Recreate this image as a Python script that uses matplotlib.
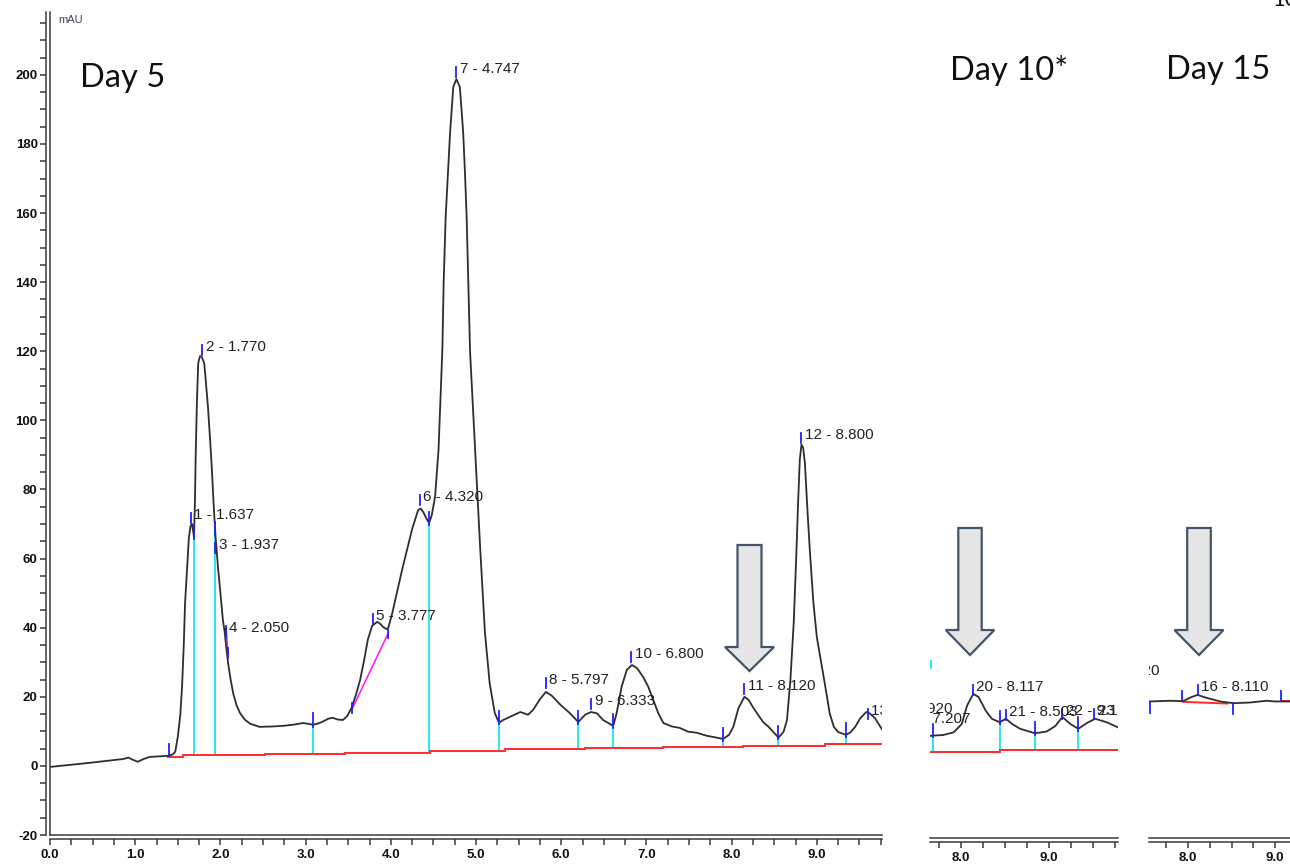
import matplotlib
matplotlib.use("Agg")
import matplotlib.pyplot as plt
from matplotlib.patches import Polygon
from matplotlib.ticker import FormatStrFormatter, MultipleLocator

plt.rcParams["font.family"] = ["Liberation Sans", "DejaVu Sans"]
plt.rcParams["axes.unicode_minus"] = False

# ---- Day 5 trace (main panel), minutes / mAU ----
day5_t = [0.00, 0.47, 0.86, 0.92, 0.97, 1.03, 1.10, 1.17, 1.38, 1.44, 1.47, 1.50, 1.53,
          1.55, 1.57, 1.585, 1.61, 1.63, 1.65, 1.667, 1.69, 1.70, 1.71, 1.725, 1.74, 1.76,
          1.78, 1.81, 1.83, 1.855, 1.88, 1.90, 1.92, 1.94, 1.97, 2.00, 2.03, 2.05, 2.07,
          2.09, 2.12, 2.15, 2.19, 2.23, 2.29, 2.35, 2.46, 2.60, 2.74, 2.85, 2.97, 3.03,
          3.09, 3.15, 3.20, 3.27, 3.32, 3.38, 3.44, 3.49, 3.54, 3.59, 3.64, 3.69, 3.73,
          3.78, 3.84, 3.88, 3.91, 3.95, 3.97, 4.02, 4.07, 4.13, 4.19, 4.25, 4.32, 4.35,
          4.38, 4.42, 4.45, 4.48, 4.52, 4.56, 4.59, 4.605, 4.62, 4.644, 4.675, 4.695,
          4.715, 4.733, 4.77, 4.81, 4.83, 4.85, 4.87, 4.89, 4.93, 4.99, 5.05, 5.105,
          5.16, 5.22, 5.27, 5.32, 5.40, 5.52, 5.61, 5.67, 5.75, 5.82, 5.89, 5.99, 6.10,
          6.20, 6.28, 6.35, 6.42, 6.49, 6.61, 6.65, 6.71, 6.77, 6.83, 6.89, 6.96, 7.02,
          7.08, 7.14, 7.20, 7.30, 7.39, 7.49, 7.59, 7.71, 7.78, 7.90, 7.97, 8.02, 8.08,
          8.15, 8.20, 8.25, 8.31, 8.37, 8.43, 8.49, 8.55, 8.61, 8.65, 8.69, 8.73, 8.76,
          8.78, 8.80, 8.82, 8.84, 8.86, 8.89, 8.92, 8.96, 9.00, 9.04, 9.07, 9.12, 9.15,
          9.20, 9.25, 9.34, 9.39, 9.45, 9.51, 9.58, 9.62, 9.68, 9.77]
day5_mau = [-0.3, 0.9, 2.0, 2.4, 1.8, 1.2, 2.0, 2.6, 2.9, 3.3, 4.1, 8.4, 15.0,
            23.0, 35.0, 47.0, 57.6, 66.0, 69.5, 70.0, 66.3, 75.0, 90.0, 106.0, 116.6, 118.6,
            118.4, 116.6, 111.0, 103.6, 94.0, 85.7, 76.0, 67.4, 58.0, 50.0, 42.0, 38.8, 34.0,
            29.8, 25.0, 21.0, 17.5, 15.3, 13.3, 12.2, 11.3, 11.4, 11.6, 11.9, 12.4, 12.2,
            11.9, 12.3, 12.8, 13.7, 13.9, 13.4, 13.3, 14.5, 16.8, 20.5, 24.9, 31.0, 36.5,
            40.5, 41.7, 41.0, 40.2, 39.6, 39.9, 44.5, 50.0, 56.5, 62.5, 68.5, 74.0, 74.5,
            73.5, 71.5, 70.3, 72.5, 78.0, 91.5, 110.8, 120.4, 139.7, 159.0, 173.5, 183.0,
            189.9, 196.5, 198.8, 196.5, 190.0, 183.0, 172.0, 159.0, 120.0, 91.5, 62.5, 38.5,
            24.0, 15.3, 12.5, 13.3, 14.2, 15.6, 14.8, 16.2, 19.3, 21.4, 20.3, 17.7, 15.3,
            12.7, 14.8, 15.6, 15.2, 13.3, 11.6, 15.2, 23.0, 27.8, 29.2, 28.3, 25.8, 23.0,
            19.1, 15.2, 12.4, 11.4, 11.0, 9.9, 9.6, 8.7, 8.4, 7.8, 9.0, 11.3, 16.7,
            20.0, 19.1, 17.0, 14.8, 12.7, 11.4, 9.8, 8.2, 9.9, 13.3, 24.9, 42.0, 61.6,
            76.0, 88.6, 93.0, 92.0, 87.7, 74.0, 61.6, 47.2, 37.3, 31.5, 27.0, 20.0, 15.3,
            11.3, 9.8, 9.0, 9.6, 11.3, 13.8, 15.6, 15.2, 13.9, 10.4]

# baseline segments (red): edges and level of each segment
day5_base_edges = [1.38, 1.56, 2.52, 3.46, 4.46, 5.34, 6.28, 7.20, 8.13, 9.10, 9.77]
day5_base_level = [2.7, 3.1, 3.4, 3.8, 4.3, 4.8, 5.1, 5.6, 5.9, 6.4]

# drop lines (cyan): time, top (trace), bottom (baseline)
day5_drop_t = [1.69, 1.94, 3.09, 4.45, 5.27, 6.20, 6.61, 7.90, 8.55, 9.34]
day5_drop_top = [66.3, 67.4, 11.9, 70.3, 12.5, 12.7, 11.6, 7.8, 8.2, 9.0]
day5_drop_bot = [3.1, 3.1, 3.4, 3.8, 4.3, 4.8, 5.1, 5.6, 5.9, 6.4]

# peak labels
day5_labels = ["1 - 1.637", "2 - 1.770", "3 - 1.937", "4 - 2.050", "5 - 3.777", "6 - 4.320",
               "7 - 4.747", "8 - 5.797", "9 - 6.333", "10 - 6.800", "11 - 8.120",
               "12 - 8.800", "13 - 9.587"]
day5_label_t = [1.65, 1.785, 1.94, 2.06, 3.79, 4.34, 4.77, 5.82, 6.35, 6.82,
                8.15, 8.82, 9.60]
day5_label_y = [72.6, 121.3, 64.0, 40.0, 43.4, 77.9, 201.7, 24.9, 18.8, 32.4, 23.2, 95.8, 15.9]

# tangent skims (magenta)
skim_t = [[3.55, 3.97], [2.07, 2.09]]
skim_y = [[16.7, 38.4], [38.5, 32.6]]

# ---- Day 10 excerpt ----
day10_t = [7.65, 7.67, 7.80, 7.92, 8.01, 8.07, 8.14, 8.20, 8.28, 8.35, 8.44, 8.51, 8.58,
           8.67, 8.84, 8.97, 9.07, 9.15, 9.24, 9.33, 9.43, 9.52, 9.65, 9.78]
day10_mau = [9.5, 9.6, 9.8, 10.6, 13.0, 18.3, 21.7, 20.8, 16.9, 14.5, 13.5, 14.5, 13.0,
             11.6, 10.3, 10.8, 12.4, 15.0, 13.0, 11.6, 13.3, 14.5, 13.5, 12.0]
day10_base_edges = [7.65, 8.44, 9.78]
day10_base_level = [4.9, 5.35]
day10_drop_t = [7.68, 8.44, 8.84, 9.33]
day10_drop_top = [9.6, 13.5, 10.3, 11.6]
day10_drop_bot = [4.9, 5.35, 5.35, 5.35]
day10_labels = ["20 - 8.117", "21 - 8.503", "22 - 9.150", "23 - 9.510"]
day10_label_t = [8.135, 8.51, 9.15, 9.51]
day10_label_y = [23.7, 16.5, 16.8, 16.8]

# ---- Day 15 excerpt ----
day15_t = [7.55, 7.79, 7.94, 8.04, 8.11, 8.19, 8.37, 8.52, 8.71, 8.90, 9.00, 9.17]
day15_mau = [19.5, 19.7, 19.6, 20.8, 21.4, 20.7, 19.5, 19.0, 19.2, 19.7, 19.5, 19.5]
day15_labels = ["16 - 8.110"]
day15_label_t = [8.11]
day15_label_y = [23.7]

W, H = 1290, 865
TRACE = "#2e2e2e"
RED = "#ff2a2a"
CYAN = "#00e8f0"
BLUE = "#2020ff"
MAGENTA = "#ff20ff"
AXC = "#3a3a3a"
TXT = "#222222"
LBL_FS = 11

fig = plt.figure(figsize=(W / 100, H / 100), dpi=100)


def px_axes(left, top, right, bottom):
    return fig.add_axes([left / W, 1 - bottom / H, (right - left) / W, (bottom - top) / H])


def style_axes(ax, show_left):
    for side in ["top", "right"]:
        ax.spines[side].set_visible(False)
    ax.spines["left"].set_visible(show_left)
    for side in (["bottom", "left"] if show_left else ["bottom"]):
        ax.spines[side].set_position(("outward", 2.9))
        ax.spines[side].set_color(AXC)
        ax.spines[side].set_linewidth(1.1)
    ax.axhline(ax.get_ylim()[0], color=AXC, lw=1.1, clip_on=False, zorder=5)
    ax.xaxis.set_major_locator(MultipleLocator(1.0))
    ax.xaxis.set_minor_locator(MultipleLocator(0.25))
    ax.xaxis.set_major_formatter(FormatStrFormatter("%.1f"))
    ax.tick_params(axis="x", which="both", direction="out", length=4.5, width=1.1,
                   color=AXC, pad=2.5, labelsize=9.5)
    if show_left:
        ax.yaxis.set_major_locator(MultipleLocator(20))
        ax.yaxis.set_minor_locator(MultipleLocator(5))
        ax.tick_params(axis="y", which="both", direction="out", length=4, width=1.1,
                       color=AXC, pad=2, labelsize=9.5)
        ax.axvline(ax.get_xlim()[0], color=AXC, lw=1.1, clip_on=False, zorder=5)
    else:
        ax.set_yticks([])
    for lab in ax.get_xticklabels() + ax.get_yticklabels():
        lab.set_fontweight("bold")
        lab.set_color("#111111")
        lab.set_family(["Liberation Sans Narrow", "Liberation Sans"])


def draw_trace(ax, t, y):
    ax.plot(t, y, color=TRACE, lw=1.3, zorder=4, solid_joinstyle="round")


def draw_base(ax, edges, levels):
    for i, lvl in enumerate(levels):
        ax.plot([edges[i], edges[i + 1]], [lvl, lvl], color=RED, lw=1.4, zorder=3)


def draw_drops(ax, ts, tops, bots):
    for t, top, bot in zip(ts, tops, bots):
        ax.plot([t, t], [bot, top], color=CYAN, lw=1.2, zorder=2)
        ax.plot([t, t], [top - 0.5, top + 3.3], color=BLUE, lw=1.3, zorder=5)


def draw_labels(ax, labels, ts, ys):
    for lab, t, y in zip(labels, ts, ys):
        ax.plot([t, t], [y - 2.4, y + 0.6], color=BLUE, lw=1.3, zorder=5)
        ax.annotate(lab, (t, y), xytext=(2.5, 0), textcoords="offset points",
                    ha="left", va="center", fontsize=LBL_FS, color=TXT,
                    annotation_clip=False, clip_on=True, zorder=6)


# ---------------- main panel ----------------
ax = px_axes(50, 12, 882, 835)
ax.set_xlim(0, 9.765)
ax.set_ylim(-20, 218.2)
style_axes(ax, True)
draw_trace(ax, day5_t, day5_mau)
draw_base(ax, day5_base_edges, day5_base_level)
draw_drops(ax, day5_drop_t, day5_drop_top, day5_drop_bot)
draw_labels(ax, day5_labels, day5_label_t, day5_label_y)
for st, sy in zip(skim_t, skim_y):
    ax.plot(st, sy, color=MAGENTA, lw=1.2, zorder=3)
    for t, y in zip(st, sy):
        ax.plot([t, t], [y - 1.5, y + 1.5], color=BLUE, lw=1.3, zorder=5)
ax.plot([1.40, 1.40], [2.9, 6.4], color=BLUE, lw=1.3, zorder=5)
ax.text(0.094, 215.9, "mAU", fontsize=8, color="#4a3a66", ha="left", va="center")

# ---------------- Day 10 panel ----------------
ax10 = px_axes(930, 660, 1118, 838)
ax10.set_xlim(7.65, 9.78)
ax10.set_ylim(-20, 31.5)
style_axes(ax10, False)
draw_trace(ax10, day10_t, day10_mau)
draw_base(ax10, day10_base_edges, day10_base_level)
draw_drops(ax10, day10_drop_t, day10_drop_top, day10_drop_bot)
draw_labels(ax10, day10_labels, day10_label_t, day10_label_y)
ax10.plot([7.665, 7.665], [29.2, 31.5], color=CYAN, lw=1.2)
for txt, t, y in [("19 - 7.920", 7.905, 17.2), ("18 - 7.207", 8.11, 14.4)]:
    ax10.text(t, y, txt, ha="right", va="center", fontsize=LBL_FS, color=TXT, clip_on=True)

# ---------------- Day 15 panel ----------------
ax15 = px_axes(1149, 660, 1290, 838)
ax15.set_xlim(7.55, 9.17)
ax15.set_ylim(-20, 31.5)
style_axes(ax15, False)
draw_trace(ax15, day15_t, day15_mau)
ax15.plot([7.94, 8.45], [19.4, 18.9], color=RED, lw=1.4, zorder=3)
ax15.plot([9.08, 9.17], [19.6, 19.6], color=RED, lw=1.4, zorder=3)
for t, y0, y1 in [(7.56, 16.2, 19.2), (7.93, 19.6, 22.5), (8.51, 15.8, 19.0), (9.07, 19.6, 22.5)]:
    ax15.plot([t, t], [y0, y1], color=BLUE, lw=1.3, zorder=5)
draw_labels(ax15, day15_labels, day15_label_t, day15_label_y)
ax15.text(7.665, 28.4, "15 - 7.420", ha="right", va="center", fontsize=LBL_FS, color=TXT,
          clip_on=True)


# ---------------- block arrows ----------------
def block_arrow(cx, top, head_top, tip, shaft_hw, head_hw):
    pts = [(cx - shaft_hw, top), (cx + shaft_hw, top), (cx + shaft_hw, head_top),
           (cx + head_hw, head_top), (cx, tip), (cx - head_hw, head_top),
           (cx - shaft_hw, head_top)]
    pts = [(x / W, 1 - y / H) for x, y in pts]
    fig.add_artist(Polygon(pts, closed=True, transform=fig.transFigure,
                           facecolor="#e6e6e6", edgecolor="#44546a", lw=1.6,
                           joinstyle="miter", zorder=10))


block_arrow(749.5, 545, 647, 671, 12, 24.5)
block_arrow(970, 528, 630, 655, 11.7, 24.3)
block_arrow(1199, 528, 630, 655, 11.8, 24.5)

# ---------------- panel titles ----------------
for txt, x, y in [("Day 5", 80, 78), ("Day 10*", 950, 70), ("Day 15", 1166, 70)]:
    fig.text(x / W, 1 - y / H, txt, ha="left", va="center", fontsize=23.5,
             family=["Lato", "DejaVu Sans"], color="#111111")
fig.text(1272 / W, 1.0, "10", ha="left", va="center", fontsize=16,
         family=["Lato", "DejaVu Sans"], color="#111111")

fig.savefig("out.png", dpi=100)
